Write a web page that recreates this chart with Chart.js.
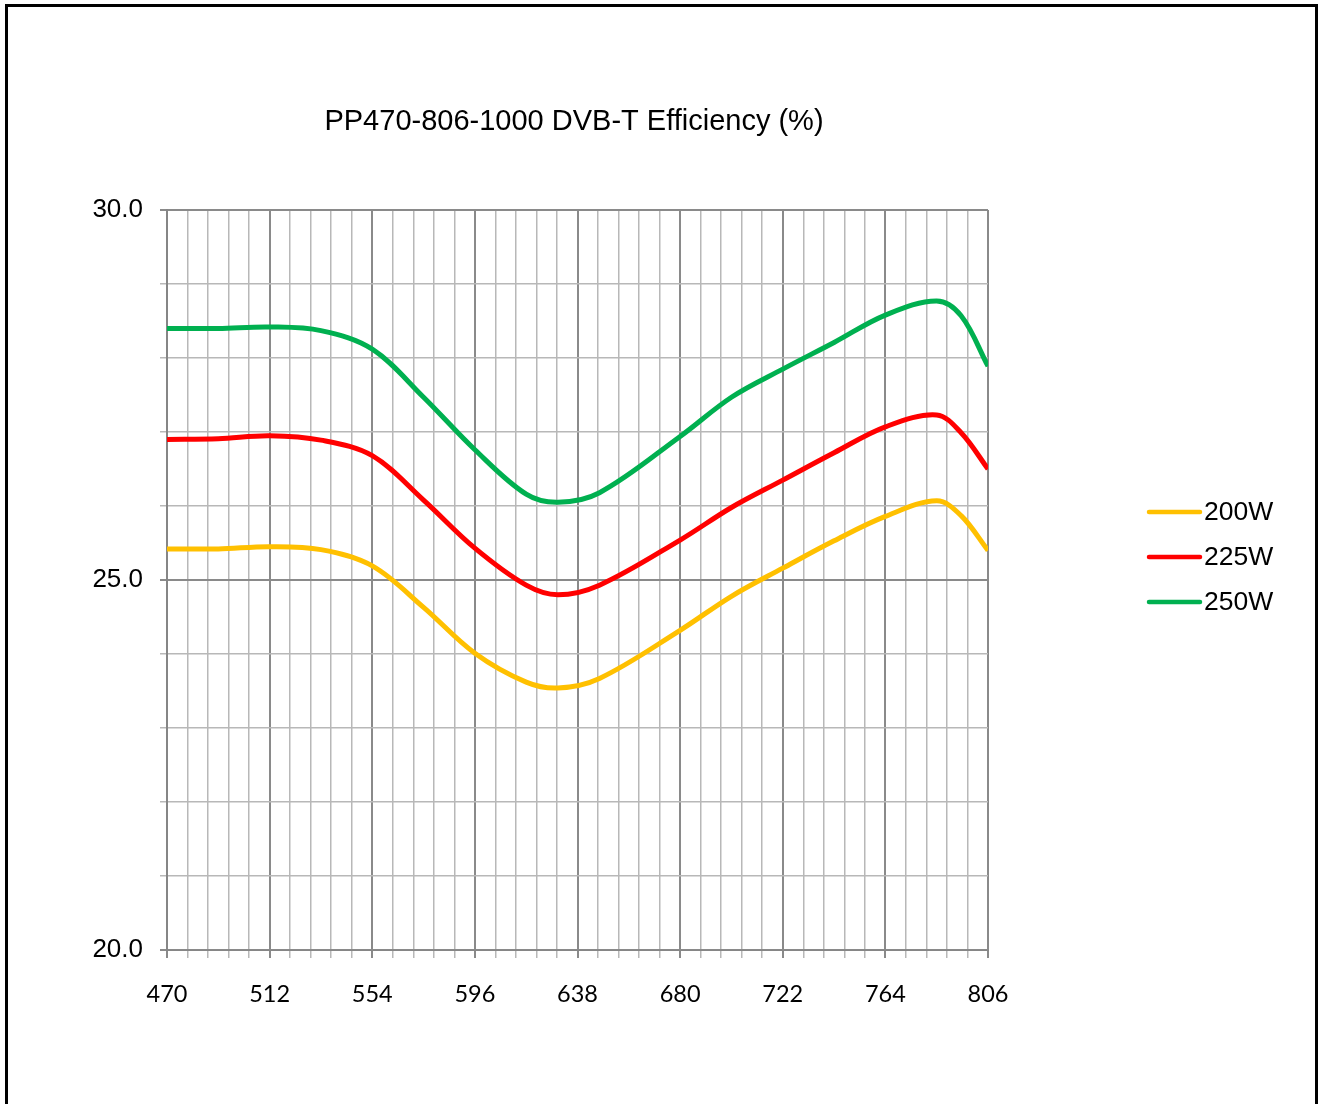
<!DOCTYPE html>
<html>
<head>
<meta charset="utf-8">
<script src="https://cdn.jsdelivr.net/npm/chart.js@4/dist/chart.umd.min.js"></script>
<style>
html,body{margin:0;padding:0;background:#fff;}
#wrap{width:1318px;height:1104px;}
</style>
</head>
<body>
<div id="wrap"><canvas id="c" width="1318" height="1104"></canvas></div>
<script>
const titleText = "PP470-806-1000 DVB-T Efficiency (%)";
const freqs = [470, 491, 512, 533, 554, 575, 596, 617, 630, 647, 680, 701, 722, 743, 764, 785, 795, 806];
const eff200 = [25.42, 25.42, 25.45, 25.41, 25.19, 24.63, 24.01, 23.62, 23.54, 23.67, 24.32, 24.78, 25.16, 25.53, 25.86, 26.07, 25.87, 25.40];
const eff225 = [26.90, 26.91, 26.95, 26.89, 26.68, 26.08, 25.43, 24.93, 24.80, 24.93, 25.54, 25.98, 26.35, 26.72, 27.07, 27.23, 26.99, 26.50];
const eff250 = [28.40, 28.40, 28.42, 28.37, 28.12, 27.47, 26.76, 26.16, 26.05, 26.18, 26.94, 27.47, 27.85, 28.21, 28.58, 28.77, 28.57, 27.89];
const seriesNames = ["200W", "225W", "250W"];
const seriesColors = ["#FFC000", "#FF0000", "#00B050"];
const xMin = 470, xMax = 806, xMinor = 8.4, xMajor = 42;
const yMin = 20, yMax = 30, yMinor = 1, yMajor = 5;

const seriesData = [eff200, eff225, eff250];
const datasets = seriesData.map((arr, i) => ({
  label: seriesNames[i],
  data: freqs.map((f, j) => ({x: f, y: arr[j]})),
  borderColor: seriesColors[i],
  backgroundColor: seriesColors[i],
  borderWidth: 5,
  pointRadius: 0,
  tension: 0.35,
  fill: false
}));

const isMajorX = v => Math.abs(((v - xMin) / xMajor) - Math.round((v - xMin) / xMajor)) < 1e-6;
const isMajorY = v => Math.abs((v / yMajor) - Math.round(v / yMajor)) < 1e-6;

const decorPlugin = {
  id: 'decor',
  beforeDraw(chart) {
    const ctx = chart.ctx;
    ctx.save();
    ctx.fillStyle = '#fff';
    ctx.fillRect(0, 0, chart.width, chart.height);
    ctx.restore();
  },
  afterDraw(chart) {
    const ctx = chart.ctx;
    ctx.save();
    ctx.strokeStyle = '#000';
    ctx.lineWidth = 3;
    ctx.beginPath();
    ctx.moveTo(6.5, 1110);
    ctx.lineTo(6.5, 5.5);
    ctx.lineTo(1316.5, 5.5);
    ctx.lineTo(1316.5, 1110);
    ctx.stroke();
    ctx.fillStyle = '#000';
    ctx.font = '29px "Liberation Sans", Arial, sans-serif';
    ctx.textAlign = 'center';
    ctx.textBaseline = 'middle';
    ctx.fillText(titleText, 574, 122);
    ctx.font = '26.5px "Liberation Sans", Arial, sans-serif';
    ctx.textAlign = 'left';
    seriesNames.forEach((n, i) => {
      const y = 512 + i * 45;
      ctx.strokeStyle = seriesColors[i];
      ctx.lineWidth = 4.5;
      ctx.lineCap = 'round';
      ctx.beginPath();
      ctx.moveTo(1149, y);
      ctx.lineTo(1200, y);
      ctx.stroke();
      ctx.fillStyle = '#000';
      ctx.fillText(n, 1204, y + 1);
    });
    ctx.restore();
  }
};

new Chart(document.getElementById('c'), {
  type: 'line',
  data: {datasets},
  options: {
    responsive: false,
    devicePixelRatio: 1,
    animation: false,
    events: [],
    layout: {padding: {left: 0, top: 210, right: 330, bottom: 94}},
    plugins: {legend: {display: false}, title: {display: false}, tooltip: {enabled: false}},
    scales: {
      x: {
        type: 'linear',
        min: xMin, max: xMax,
        afterFit: s => { s.height = 60; },
        border: {color: '#868686', width: 1},
        grid: {
          color: ctx => isMajorX(ctx.tick.value) ? '#8a8a8a' : '#b8b8b8',
          lineWidth: ctx => isMajorX(ctx.tick.value) ? 2 : 1.5,
          tickLength: 8,
          drawTicks: true
        },
        ticks: {
          stepSize: xMinor,
          autoSkip: false,
          maxRotation: 0,
          padding: 22,
          color: '#000',
          font: {family: 'Lato, "Open Sans", sans-serif', size: 23.5},
          callback: v => isMajorX(v) ? String(Math.round(v)) : ''
        }
      },
      y: {
        type: 'linear',
        min: yMin, max: yMax,
        afterFit: s => { s.width = 167; },
        border: {color: '#868686', width: 2},
        grid: {
          color: ctx => isMajorY(ctx.tick.value) ? '#8a8a8a' : '#b8b8b8',
          lineWidth: ctx => isMajorY(ctx.tick.value) ? 2 : 1.5,
          tickLength: 7
        },
        ticks: {
          stepSize: yMinor,
          autoSkip: false,
          padding: 17,
          color: '#000',
          font: {family: '"Liberation Sans", Arial, sans-serif', size: 26},
          callback: v => isMajorY(v) ? v.toFixed(1) : ''
        }
      }
    }
  },
  plugins: [decorPlugin]
});
</script>
</body>
</html>
